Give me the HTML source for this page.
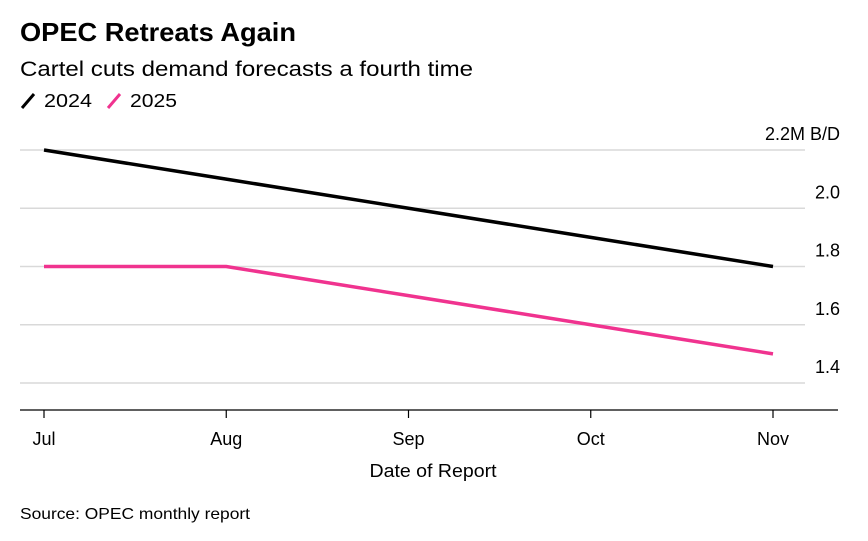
<!DOCTYPE html>
<html><head><meta charset="utf-8">
<style>
body{margin:0;background:#fff;font-family:"Liberation Sans",Arial,sans-serif;}
svg text{font-family:"Liberation Sans",Arial,sans-serif;}
</style></head>
<body>
<svg id="chart" width="868" height="536">
<text x="20" y="41" font-size="26" font-weight="bold" fill="#000" textLength="276" lengthAdjust="spacingAndGlyphs">OPEC Retreats Again</text>
<text x="20" y="76" font-size="21" fill="#000" textLength="453" lengthAdjust="spacingAndGlyphs">Cartel cuts demand forecasts a fourth time</text>
<g>
<line x1="22" y1="108" x2="34" y2="94" stroke="#000" stroke-width="3"/>
<text x="44" y="107" font-size="18" textLength="48" lengthAdjust="spacingAndGlyphs">2024</text></g>
<g>
<line x1="108" y1="108" x2="120" y2="94" stroke="#f0338f" stroke-width="3"/>
<text x="130" y="107" font-size="18" textLength="47" lengthAdjust="spacingAndGlyphs">2025</text></g>
<g id="grid"></g><g id="xaxis"></g><g id="series"></g>
<text x="433" y="477" font-size="18" text-anchor="middle" textLength="127" lengthAdjust="spacingAndGlyphs">Date of Report</text>
<text x="20" y="519" font-size="16" textLength="230" lengthAdjust="spacingAndGlyphs">Source: OPEC monthly report</text>
</svg>
<script>
const categories=["Jul","Aug","Sep","Oct","Nov"];
const series2024=[2.2,2.1,2.0,1.9,1.8];
const series2025=[1.8,1.8,1.7,1.6,1.5];
const yTicks=[1.4,1.6,1.8,2.0,2.2];
const yTickLabels=["1.4","1.6","1.8","2.0","2.2M B/D"];
const NS="http://www.w3.org/2000/svg";
function x(i){return 44+i*(773-44)/(categories.length-1);}
function y(v){return 383-(v-1.4)*(383-150)/0.8;}
function mk(tag,attrs,parent){const e=document.createElementNS(NS,tag);for(const k in attrs)e.setAttribute(k,attrs[k]);parent.appendChild(e);return e;}
const grid=document.getElementById('grid');
yTicks.forEach((t,i)=>{
 const l=mk('line',{x1:20,x2:805,y1:y(t),y2:y(t),stroke:'#d9d9d9','stroke-width':1.5},grid);
 
 
 const tx=mk('text',{x:840,y:y(t)-10,'font-size':18,'text-anchor':'end'},grid);
 tx.textContent=yTickLabels[i];
 
 
});
const xa=document.getElementById('xaxis');
const ax=mk('line',{x1:20,x2:838,y1:410,y2:410,stroke:'#000','stroke-width':1.2},xa);


categories.forEach((c,i)=>{
 const tk=mk('line',{x1:x(i),x2:x(i),y1:410,y2:418,stroke:'#000','stroke-width':1.2},xa);
 
 
 const tx=mk('text',{x:x(i),y:445,'font-size':18,'text-anchor':'middle'},xa);
 tx.textContent=c;
 
 
});
const sg=document.getElementById('series');
[[series2024,'#000','line-2024'],[series2025,'#f0338f','line-2025']].forEach(([d,col,n])=>{
 const p=mk('polyline',{points:d.map((v,i)=>x(i)+','+y(v)).join(' '),fill:'none',stroke:col,'stroke-width':3.5},sg);
 
 
});
</script>
</body></html>
